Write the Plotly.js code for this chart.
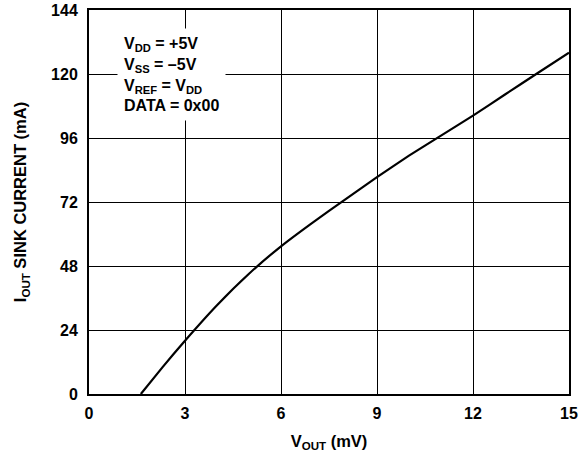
<!DOCTYPE html>
<html>
<head>
<meta charset="utf-8">
<script src="https://cdn.plot.ly/plotly-3.0.1.min.js"></script>
<style>html,body{margin:0;padding:0;background:#fff;}#chart{width:579px;height:457px;}</style>
</head>
<body>
<div id="chart"></div>
<script>
const vout = [1.62, 2.3, 3, 4, 5, 6, 7, 8, 9, 10, 11, 12, 13, 14, 15];
const iout = [0, 10.1, 20.0, 33.3, 45.1, 55.4, 64.4, 72.9, 81.3, 89.4, 96.9, 104.4, 112.3, 120.2, 128];
const xTicks = [0, 3, 6, 9, 12, 15];
const yTicks = [0, 24, 48, 72, 96, 120, 144];
const noteLines = ["V<sub>DD</sub> = +5V", "V<sub>SS</sub> = –5V", "V<sub>REF</sub> = V<sub>DD</sub>", "DATA = 0x00"];

const fam = "Liberation Sans, Arial, sans-serif";
const fnt = {family: fam, size: 16, color: "#000", weight: "bold"};
const tfnt = {family: fam, size: 16.5, color: "#000", weight: "bold"};

const trace = {
  x: vout, y: iout, type: "scatter", mode: "lines",
  line: {color: "#000", width: 2.2, shape: "spline", smoothing: 0.4},
  hoverinfo: "skip", showlegend: false
};

const layout = {
  width: 579, height: 457,
  margin: {l: 89, r: 10, t: 10, b: 63},
  paper_bgcolor: "#fff", plot_bgcolor: "#fff",
  font: fnt,
  xaxis: {
    range: [0, 15], tickvals: xTicks, ticktext: xTicks.map(String),
    showgrid: true, gridcolor: "#000", gridwidth: 1,
    zeroline: false, showline: true, linecolor: "#000", linewidth: 2, mirror: true,
    ticks: "", ticklabelstandoff: 4, tickfont: fnt, fixedrange: true,
    title: {text: "V<sub>OUT</sub> (mV)", font: tfnt, standoff: 14}
  },
  yaxis: {
    range: [0, 144], tickvals: yTicks, ticktext: yTicks.map(String),
    showgrid: true, gridcolor: "#000", gridwidth: 1,
    zeroline: false, showline: true, linecolor: "#000", linewidth: 2, mirror: true,
    ticks: "", ticklabelstandoff: 6, tickfont: fnt, fixedrange: true,
    title: {text: "I<sub>OUT</sub> SINK CURRENT (mA)", font: tfnt, standoff: 20}
  },
  annotations: [{
    xref: "x", yref: "y", x: 0.875, y: 137.25,
    xanchor: "left", yanchor: "top", align: "left",
    text: noteLines.join("<br>"), showarrow: false,
    bgcolor: "#fff", borderpad: 6, font: fnt
  }]
};

Plotly.newPlot("chart", [trace], layout, {displayModeBar: false, staticPlot: true});
</script>
</body>
</html>
